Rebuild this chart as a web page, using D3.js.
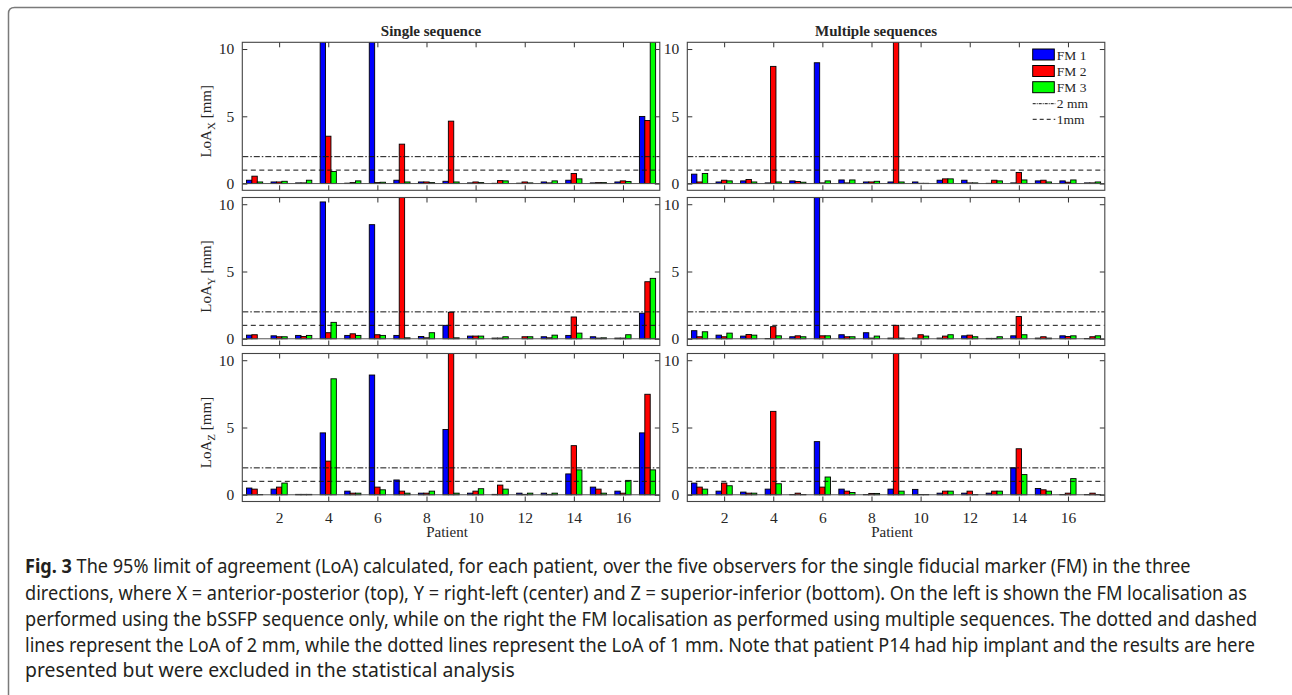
<!DOCTYPE html>
<html>
<head>
<meta charset="utf-8">
<script src="https://cdn.jsdelivr.net/npm/d3@7"></script>
<style>
body { margin: 0; background: #fff; }
.plot text { font-family: "Liberation Serif", "Times New Roman", serif; fill: #262626; }
.caption { font-family: "Noto Sans", "Open Sans", sans-serif; fill: #231f20; }
</style>
</head>
<body>
<div id="fig"></div>
<script>
// values, bars running off the top of the axes set to 12
var patients = d3.range(1, 18)
var seriesNames = ["FM 1", "FM 2", "FM 3"]
var seriesColors = ["#0000ff", "#ff0000", "#00ff00"]
var refValues = [2, 1]
var refLabels = ["2 mm", "1mm"]
var yTicks = [0, 5, 10]
var xTicks = [2, 4, 6, 8, 10, 12, 14, 16]
var panelTitles = ["Single sequence", "Multiple sequences"]
var directions = ["X", "Y", "Z"]

var xSingleFM1 = [0.25, 0.12, 0.05, 12, 0.03, 12, 0.25, 0.12, 0.17, 0.05, 0.02, 0.03, 0.12, 0.25, 0.05, 0.12, 4.99]
var xSingleFM2 = [0.55, 0.12, 0.05, 3.52, 0.07, 0.07, 2.93, 0.12, 4.64, 0.12, 0.22, 0.12, 0.05, 0.75, 0.07, 0.2, 4.69]
var xSingleFM3 = [0.12, 0.17, 0.25, 0.9, 0.2, 0.1, 0.12, 0.07, 0.12, 0.07, 0.2, 0.05, 0.2, 0.35, 0.07, 0.15, 12]

var xMultiFM1 = [0.7, 0.12, 0.2, 0.05, 0.2, 8.98, 0.27, 0.12, 0.12, 0.12, 0.25, 0.25, 0.02, 0.05, 0.2, 0.2, 0.05]
var xMultiFM2 = [0.12, 0.25, 0.3, 8.71, 0.15, 0.05, 0.05, 0.12, 12, 0.02, 0.35, 0.05, 0.25, 0.82, 0.25, 0.1, 0.05]
var xMultiFM3 = [0.75, 0.2, 0.12, 0.12, 0.1, 0.2, 0.27, 0.17, 0.12, 0.02, 0.35, 0.05, 0.2, 0.27, 0.12, 0.27, 0.12]

var ySingleFM1 = [0.27, 0.22, 0.25, 10.17, 0.25, 8.48, 0.25, 0.17, 1.0, 0.2, 0.05, 0.0, 0.15, 0.25, 0.15, 0.05, 1.9]
var ySingleFM2 = [0.3, 0.15, 0.17, 0.45, 0.37, 0.3, 12, 0.07, 1.97, 0.2, 0.05, 0.15, 0.07, 1.62, 0.05, 0.05, 4.24]
var ySingleFM3 = [0.0, 0.15, 0.25, 1.22, 0.25, 0.25, 0.07, 0.45, 0.07, 0.2, 0.15, 0.15, 0.27, 0.42, 0.07, 0.3, 4.49]

var yMultiFM1 = [0.6, 0.27, 0.2, 0.02, 0.15, 12, 0.3, 0.45, 0.05, 0.05, 0.05, 0.22, 0.03, 0.22, 0.05, 0.22, 0.02]
var yMultiFM2 = [0.15, 0.15, 0.32, 0.9, 0.22, 0.22, 0.15, 0.05, 1.0, 0.3, 0.2, 0.27, 0.03, 1.65, 0.15, 0.17, 0.15]
var yMultiFM3 = [0.52, 0.42, 0.27, 0.22, 0.15, 0.22, 0.15, 0.2, 0.05, 0.2, 0.3, 0.15, 0.15, 0.3, 0.05, 0.22, 0.22]

var zSingleFM1 = [0.5, 0.42, 0.03, 4.6, 0.27, 8.9, 1.1, 0.12, 4.85, 0.12, 0.03, 0.12, 0.12, 1.55, 0.57, 0.27, 4.6]
var zSingleFM2 = [0.42, 0.57, 0.03, 2.5, 0.12, 0.57, 0.27, 0.12, 12, 0.27, 0.72, 0.03, 0.03, 3.65, 0.42, 0.12, 7.47]
var zSingleFM3 = [0.02, 0.87, 0.03, 8.62, 0.12, 0.37, 0.12, 0.27, 0.12, 0.45, 0.42, 0.12, 0.12, 1.85, 0.12, 1.07, 1.85]

var zMultiFM1 = [0.87, 0.27, 0.2, 0.42, 0.02, 3.95, 0.42, 0.02, 0.42, 0.4, 0.12, 0.12, 0.12, 2.0, 0.47, 0.02, 0.02]
var zMultiFM2 = [0.57, 0.87, 0.12, 6.2, 0.12, 0.57, 0.27, 0.1, 12, 0.02, 0.27, 0.27, 0.27, 3.42, 0.37, 0.12, 0.12]
var zMultiFM3 = [0.42, 0.67, 0.12, 0.82, 0.02, 1.32, 0.17, 0.1, 0.27, 0.02, 0.27, 0.02, 0.27, 1.5, 0.27, 1.2, 0.02]

var captionLines = [
    " The 95% limit of agreement (LoA) calculated, for each patient, over the five observers for the single fiducial marker (FM) in the three",
    "directions, where X = anterior-posterior (top), Y = right-left (center) and Z = superior-inferior (bottom). On the left is shown the FM localisation as",
    "performed using the bSSFP sequence only, while on the right the FM localisation as performed using multiple sequences. The dotted and dashed",
    "lines represent the LoA of 2 mm, while the dotted lines represent the LoA of 1 mm. Note that patient P14 had hip implant and the results are here",
    "presented but were excluded in the statistical analysis"
]

var panelData = [
    [[xSingleFM1, xSingleFM2, xSingleFM3], [xMultiFM1, xMultiFM2, xMultiFM3]],
    [[ySingleFM1, ySingleFM2, ySingleFM3], [yMultiFM1, yMultiFM2, yMultiFM3]],
    [[zSingleFM1, zSingleFM2, zSingleFM3], [zMultiFM1, zMultiFM2, zMultiFM3]]
]

// layout
var width = 1292, height = 695
var colLeft = [242.3, 687.3]
var panelWidth = 417.5
var rowTop = [42.3, 197.5, 353.5]
var panelHeight = 148
var barW = 0.22

var svg = d3.select("#fig")
    .append("svg")
    .attr("width", width)
    .attr("height", height)

// outer frame, open past the right and bottom edges
svg.append("path")
    .attr("d", "M8.5," + height + " V13.5 Q8.5,7.5 14.5,7.5 H" + width)
    .attr("fill", "none")
    .attr("stroke", "#7a7a7a")
    .attr("stroke-width", 1.5)

var plot = svg.append("g").attr("class", "plot")

function drawPanel(row, col, series) {
    var left = colLeft[col], top = rowTop[row]
    var x = d3.scaleLinear().domain([0.5, 17.5]).range([left, left + panelWidth])
    var y = d3.scaleLinear().domain([-0.5, 10.5]).range([top + panelHeight, top])

    var clipId = "clip" + row + "_" + col
    plot.append("clipPath").attr("id", clipId)
        .append("rect")
        .attr("x", left).attr("y", top)
        .attr("width", panelWidth).attr("height", panelHeight)

    var g = plot.append("g").attr("clip-path", "url(#" + clipId + ")")

    series.forEach(function (values, s) {
        g.selectAll(null)
            .data(values)
            .enter()
            .append("rect")
            .attr("x", function (d, i) { return x(patients[i] + (s - 1) * barW - barW / 2) })
            .attr("width", x(0.5 + barW) - x(0.5))
            .attr("y", function (d) { return y(d) })
            .attr("height", function (d) { return y(0) - y(d) })
            .attr("fill", seriesColors[s])
            .attr("stroke", "#000")
            .attr("stroke-width", 0.9)
    })

    // bar baseline
    g.append("line")
        .attr("x1", left).attr("x2", left + panelWidth)
        .attr("y1", y(0)).attr("y2", y(0))
        .attr("stroke", "#555").attr("stroke-width", 1)

    // 2 mm and 1 mm reference lines
    g.selectAll(null)
        .data(refValues)
        .enter()
        .append("line")
        .attr("x1", left).attr("x2", left + panelWidth)
        .attr("y1", function (d) { return y(d) })
        .attr("y2", function (d) { return y(d) })
        .attr("stroke", "#111")
        .attr("stroke-width", 1)
        .attr("stroke-dasharray", function (d, i) { return i == 0 ? "6,2,1.5,2" : "5,3.5" })

    // axes, ticks pointing inward
    var showX = row == 2
    var axL = d3.axisLeft(y).tickValues(yTicks).tickSize(-5).tickPadding(8).tickSizeOuter(0)
    var axR = d3.axisRight(y).tickValues(yTicks).tickSize(-5).tickFormat("").tickSizeOuter(0)
    var axB = d3.axisBottom(x).tickValues(xTicks).tickSize(-5).tickPadding(10).tickSizeOuter(0)
    if (!showX) axB.tickFormat("")
    var axT = d3.axisTop(x).tickValues(xTicks).tickSize(-5).tickFormat("").tickSizeOuter(0)

    var axes = [
        [axL, "translate(" + left + ",0)"],
        [axR, "translate(" + (left + panelWidth) + ",0)"],
        [axB, "translate(0," + (top + panelHeight) + ")"],
        [axT, "translate(0," + top + ")"]
    ]
    axes.forEach(function (a) {
        var ag = plot.append("g").attr("transform", a[1]).call(a[0])
        ag.select(".domain").remove()
        ag.selectAll(".tick line").attr("stroke", "#333")
        ag.selectAll(".tick text")
            .style("font-size", "15.5px")
            .attr("fill", "#262626")
    })

    plot.append("rect")
        .attr("x", left).attr("y", top)
        .attr("width", panelWidth).attr("height", panelHeight)
        .attr("fill", "none")
        .attr("stroke", "#444")
        .attr("stroke-width", 1.1)

    if (col == 0) {
        var cy = top + panelHeight / 2 + 5
        var lab = plot.append("text")
            .attr("transform", "translate(211," + cy + ") rotate(-90)")
            .attr("text-anchor", "middle")
            .style("font-size", "15px")
        lab.append("tspan").text("LoA")
        lab.append("tspan").attr("dy", 4).style("font-size", "11px").text(directions[row])
        lab.append("tspan").attr("dy", -4).text(" [mm]")
    }
    if (row == 0) {
        plot.append("text")
            .attr("x", left + panelWidth / 2 - 20)
            .attr("y", 36)
            .attr("text-anchor", "middle")
            .style("font-size", "15px")
            .style("font-weight", "bold")
            .attr("fill", "#000")
            .text(panelTitles[col])
    }
    if (showX) {
        plot.append("text")
            .attr("x", left + panelWidth / 2 - 4)
            .attr("y", 537)
            .attr("text-anchor", "middle")
            .style("font-size", "15px")
            .text("Patient")
    }
}

panelData.forEach(function (rowData, r) {
    rowData.forEach(function (series, c) { drawPanel(r, c, series) })
})

// legend in the top-right panel
var legend = plot.append("g")
var lgX = 1032.7, lgW = 21.6
var lgRows = [54.5, 71, 87.2]
seriesNames.forEach(function (name, i) {
    legend.append("rect")
        .attr("x", lgX).attr("y", lgRows[i] - 5.5)
        .attr("width", lgW).attr("height", 11)
        .attr("fill", seriesColors[i])
        .attr("stroke", "#000").attr("stroke-width", 1)
    legend.append("text")
        .attr("x", lgX + lgW + 2.5).attr("y", lgRows[i] + 5)
        .style("font-size", "13.5px")
        .text(name)
})
var lgLines = [103.7, 119.3]
refLabels.forEach(function (name, i) {
    legend.append("line")
        .attr("x1", lgX).attr("x2", lgX + lgW + 1)
        .attr("y1", lgLines[i]).attr("y2", lgLines[i])
        .attr("stroke", "#111").attr("stroke-width", 1)
        .attr("stroke-dasharray", i == 0 ? "3,1,1,1" : "4,3")
    legend.append("text")
        .attr("x", lgX + lgW + 2.5).attr("y", lgLines[i] + 4.5)
        .style("font-size", "13.5px")
        .text(name)
})

// caption, each line squeezed horizontally to the width it has in the figure
var capX = 25
var capBase = [573.3, 599.5, 625.5, 651.5, 677]
var capEnd = [1191.7, 1247.7, 1257.7, 1255.7, 515]
var cap = svg.append("g").attr("class", "caption")
captionLines.forEach(function (line, i) {
    var t = cap.append("text")
        .attr("x", 0).attr("y", 0)
        .style("font-size", "19.5px")
    if (i == 0) t.append("tspan").style("font-weight", "bold").text("Fig. 3")
    t.append("tspan").text(line)
    var k = (capEnd[i] - capX) / t.node().getComputedTextLength()
    t.attr("transform", "translate(" + capX + "," + capBase[i] + ") scale(" + k + ",1)")
})
</script>
</body>
</html>
